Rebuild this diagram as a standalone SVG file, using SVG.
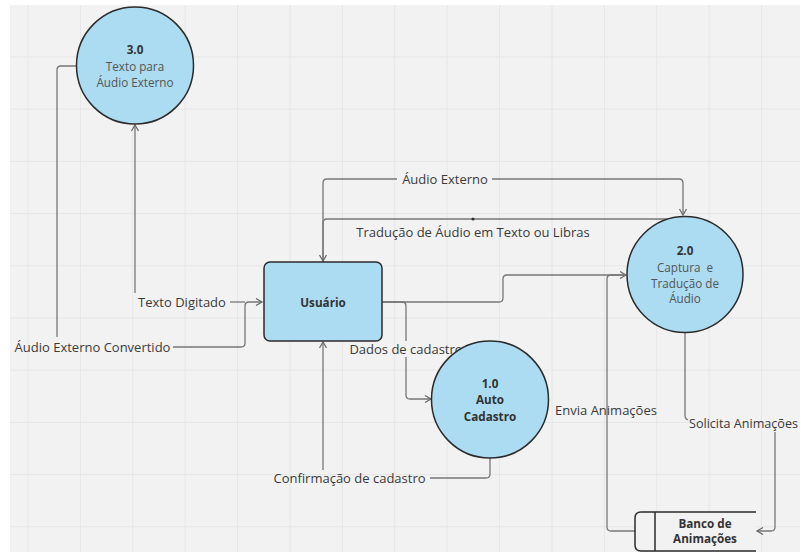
<svg xmlns="http://www.w3.org/2000/svg" width="801" height="552" viewBox="0 0 801 552">
<defs>
<style>
.grid{stroke:#e6e6e6;stroke-width:1;fill:none}
.node{fill:#acdcf2;stroke:#2b2b2b;stroke-width:1.5}
.conn{fill:none;stroke:#777;stroke-width:1.3}
.lbl{font-family:"Open Sans","Liberation Sans",sans-serif;font-size:13px;fill:#3a3a3a;text-anchor:middle;dominant-baseline:central}
.t{font-family:"Open Sans","Liberation Sans",sans-serif;font-size:11.7px;fill:#555;text-anchor:middle;dominant-baseline:central}
.b{font-weight:bold;fill:#333}
</style>
<marker id="arr" markerUnits="userSpaceOnUse" markerWidth="10" markerHeight="10" refX="7" refY="4" orient="auto">
<path d="M1,0.5 L7,4 L1,7.5" fill="none" stroke="#666" stroke-width="1.2"/>
</marker>
</defs>
<rect width="801" height="552" fill="#ffffff"/>
<rect x="10" y="5" width="790" height="547" fill="#f2f2f2"/>
<path class="grid" d="M28,5V552M80.4,5V552M132.8,5V552M185.2,5V552M237.6,5V552M290,5V552M342.4,5V552M394.8,5V552M447.2,5V552M499.6,5V552M552,5V552M604.4,5V552M656.8,5V552M709.2,5V552M761.6,5V552M10,57H800M10,109.2H800M10,161.4H800M10,213.6H800M10,265.8H800M10,318H800M10,370.2H800M10,422.4H800M10,474.6H800M10,526.8H800"/>

<g id="connectors">
  <!-- Texto Digitado: Usuário -> 3.0 -->
  <path class="conn" d="M135,293 L135,125" marker-end="url(#arr)"/>
  <text class="lbl" x="182" y="302">Texto Digitado</text>
  <!-- Áudio Externo Convertido: 3.0 -> Usuário -->
  <path class="conn" d="M76,66 L61,66 Q57,66 57,70 L57,337"/>
  <path class="conn" d="M173,347 L241,347 Q245,347 245,343 L245,306 Q245,302 249,302 L262,302" marker-end="url(#arr)"/>
  <path class="conn" d="M230,302 L245,302"/>
  <text class="lbl" x="92.5" y="347">Áudio Externo Convertido</text>
  <!-- Áudio Externo: Usuário -> 2.0 -->
  <path class="conn" d="M323,262 L323,183 Q323,179 327,179 L397,179"/>
  <path class="conn" d="M492,179 L679,179 Q683,179 683,183 L683,215" marker-end="url(#arr)"/>
  <text class="lbl" x="445" y="179">Áudio Externo</text>
  <!-- Tradução: 2.0 -> Usuário -->
  <path class="conn" d="M684,216 Q684,219 680,219 L327,219 Q323,219 323,223 L323,261" marker-end="url(#arr)"/>
  <circle cx="473" cy="219" r="1.6" fill="#333"/>
  <text class="lbl" x="473" y="232">Tradução de Áudio em Texto ou Libras</text>
  <!-- Usuário -> 2.0 -->
  <path class="conn" d="M382,302 L499,302 Q503,302 503,298 L503,279 Q503,275 507,275 L626,275" marker-end="url(#arr)"/>
  <!-- Envia Animações: Banco -> 2.0 -->
  <path class="conn" d="M635,531 L611,531 Q607,531 607,527 L607,279 Q607,275 611,275 L626,275"/>
  <text class="lbl" x="606" y="410">Envia Animações</text>
  <!-- Dados de cadastro: Usuário -> 1.0 -->
  <path class="conn" d="M382,302 L402,302 Q406,302 406,306 L406,341"/>
  <path class="conn" d="M406,357 L406,395 Q406,399 410,399 L431,399" marker-end="url(#arr)"/>
  <text class="lbl" x="406" y="349">Dados de cadastro</text>
  <!-- Confirmação de cadastro: 1.0 -> Usuário -->
  <path class="conn" d="M490,458 L490,474 Q490,478 486,478 L430,478"/>
  <path class="conn" d="M323,470 L323,342" marker-end="url(#arr)"/>
  <text class="lbl" x="349.5" y="478">Confirmação de cadastro</text>
  <!-- Solicita Animações: 2.0 -> Banco -->
  <path class="conn" d="M685,333 L685,415 Q685,419 688,420"/>
  <path class="conn" d="M775,432 L775,527 Q775,531 771,531 L757,531" marker-end="url(#arr)"/>
  <text class="lbl" x="689" y="423" style="text-anchor:start" textLength="109" lengthAdjust="spacingAndGlyphs">Solicita Animações</text>
</g>

<g id="node-3-0">
  <circle class="node" cx="135" cy="65.5" r="58.5"/>
  <text class="t b" x="135" y="49">3.0</text>
  <text class="t" x="135" y="66">Texto para</text>
  <text class="t" x="135" y="82">Áudio Externo</text>
</g>

<g id="node-usuario">
  <rect class="node" x="264" y="262" width="118" height="79" rx="6"/>
  <text class="t b" x="323" y="302">Usuário</text>
</g>

<g id="node-2-0">
  <circle class="node" cx="685" cy="274.5" r="58"/>
  <text class="t b" x="685" y="250">2.0</text>
  <text class="t" x="685" y="267" xml:space="preserve">Captura  e</text>
  <text class="t" x="685" y="283">Tradução de</text>
  <text class="t" x="685" y="298">Áudio</text>
</g>

<g id="node-1-0">
  <circle class="node" cx="490" cy="399.5" r="58.5"/>
  <text class="t b" x="490" y="383">1.0</text>
  <text class="t b" x="490" y="399">Auto</text>
  <text class="t b" x="490" y="416">Cadastro</text>
</g>

<g id="node-banco">
  <path d="M756,512 L641,512 Q635,512 635,518 L635,545 Q635,551 641,551 L756,551" fill="#f2f2f2" stroke="#2b2b2b" stroke-width="1.5"/>
  <line x1="655" y1="512" x2="655" y2="551" stroke="#2b2b2b" stroke-width="1.5"/>
  <text class="t b" x="705" y="523">Banco de</text>
  <text class="t b" x="705" y="538">Animações</text>
</g>
</svg>
